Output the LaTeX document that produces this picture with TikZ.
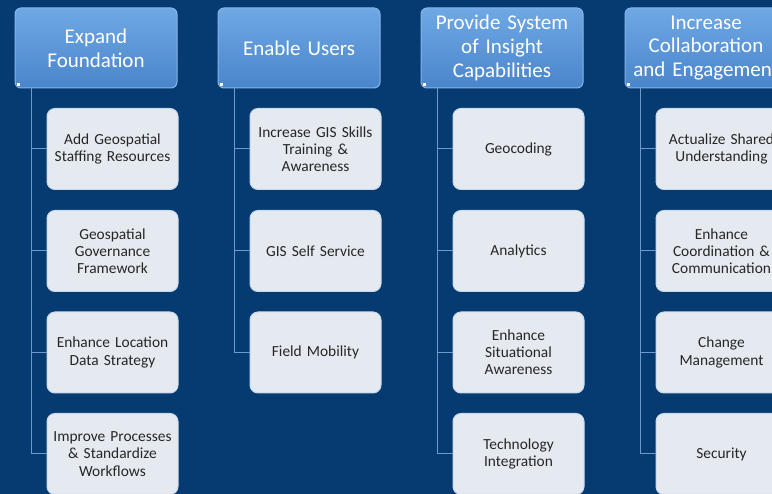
\documentclass[tikz,border=0pt]{standalone}
\usepackage{fontspec}
\setmainfont{Carlito}
\definecolor{bg}{HTML}{053B71}
\definecolor{htop}{HTML}{6FA8E4}
\definecolor{hbot}{HTML}{4A85CB}
\definecolor{hborder}{HTML}{86B5E8}
\definecolor{cfill}{HTML}{E5EAF1}
\definecolor{cborder}{HTML}{C9D9EC}
\definecolor{ctext}{HTML}{262626}
\definecolor{conn}{HTML}{7099CB}
\tikzset{
  head/.style={draw=hborder, line width=1pt, rounded corners=6pt, top color=htop, bottom color=hbot,
    minimum width=162pt, minimum height=80pt, text width=160pt, align=center,
    text=white, font=\fontsize{21}{23.7}\selectfont, inner sep=0pt},
  child/.style={draw=cborder, line width=1pt, rounded corners=8pt, fill=cfill,
    minimum width=131pt, minimum height=81pt, text width=129pt, align=center,
    text=ctext, font=\fontsize{15.4}{17.2}\selectfont, inner sep=0pt},
  conline/.style={draw=conn, line width=1pt},
  dot/.style={fill=white, minimum size=3pt, inner sep=0pt}
}
\begin{document}
\begin{tikzpicture}[x=1pt,y=-1pt]
\useasboundingbox (0,0) rectangle (772,494);
\fill[bg] (0,0) rectangle (772,494);
\begin{scope}
\clip (0,0) rectangle (772,494);
% headers
\node[head] (h1) at (96,48) {Expand\\Foundation};
\node[head] (h2) at (299,48) {Enable Users};
\node[head] (h3) at (502,48) {Provide System\\of Insight\\Capabilities};
\node[head] (h4) at (706,48) {Increase\\Collaboration\\and Engagement};
% column 1
\node[child] (a1) at (112.5,149) {Add Geospatial\\Staffing Resources};
\node[child] (a2) at (112.5,251) {Geospatial\\Governance\\Framework};
\node[child] (a3) at (112.5,352.5) {Enhance Location\\Data Strategy};
\node[child] (a4) at (112.5,454) {Improve Processes\\\& Standardize\\Workflows};
% column 2
\node[child] (b1) at (315.5,149) {Increase GIS Skills\\Training \&\\Awareness};
\node[child] (b2) at (315.5,251) {GIS Self Service};
\node[child] (b3) at (315.5,352.5) {Field Mobility};
% column 3
\node[child] (c1) at (518.5,149) {Geocoding};
\node[child] (c2) at (518.5,251) {Analytics};
\node[child] (c3) at (518.5,352.5) {Enhance\\Situational\\Awareness};
\node[child] (c4) at (518.5,454) {Technology\\Integration};
% column 4
\node[child] (d1) at (721.5,149) {Actualize Shared\\Understanding};
\node[child] (d2) at (721.5,251) {Enhance\\Coordination \&\\Communication};
\node[child] (d3) at (721.5,352.5) {Change\\Management};
\node[child] (d4) at (721.5,454) {Security};
% connectors
\foreach \h/\x/\list in {h1/31/{a1,a2,a3,a4}, h2/234/{b1,b2,b3}, h3/437/{c1,c2,c3,c4}, h4/640/{d1,d2,d3,d4}}{
  \foreach \c in \list {
    \draw[conline] (\h.south -| \x,0) |- (\c.west);
  }
}
% small corner marks
\foreach \h in {h1,h2,h3,h4}{
  \node[dot] at ([xshift=4pt,yshift=4pt]\h.south west) {};
}
\end{scope}
\end{tikzpicture}
\end{document}
